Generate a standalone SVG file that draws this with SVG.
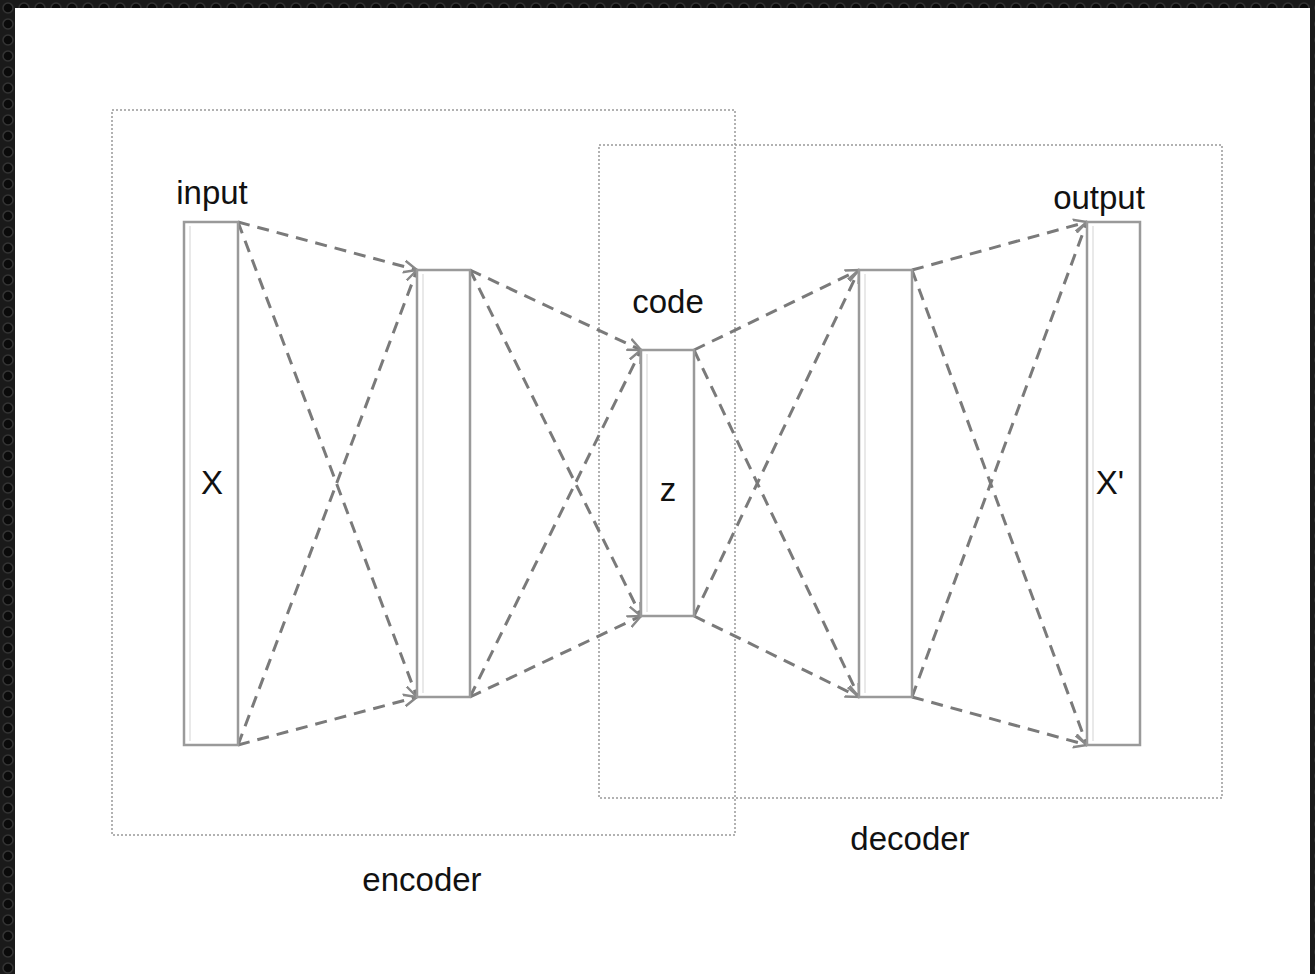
<svg xmlns="http://www.w3.org/2000/svg" width="1315" height="974" viewBox="0 0 1315 974">
<defs>
<pattern id="bg" width="16" height="16" patternUnits="userSpaceOnUse">
<rect width="16" height="16" fill="#1a1a1a"/>
<circle cx="8" cy="8" r="5" fill="#0a0a0a" stroke="#333" stroke-width="1.5"/>
</pattern>
<marker id="ah" viewBox="0 0 10 10" refX="9" refY="5" markerWidth="5" markerHeight="5" orient="auto">
<path d="M0,1 L9,5 L0,9" fill="none" stroke="#888" stroke-width="1.6"/>
</marker>
<style>
.grp{fill:none;stroke:#999;stroke-width:1.5;stroke-dasharray:2 2}
.layer{fill:#fff;stroke:#9a9a9a;stroke-width:2.5}
.inner{fill:none;stroke:#e2e2e2;stroke-width:1.5}
.con{stroke:#7a7a7a;stroke-width:3;stroke-dasharray:12 8;fill:none;marker-end:url(#ah)}
.lbl{font-family:"Liberation Sans",Arial,sans-serif;font-size:33px;fill:#111;text-anchor:middle}
</style>
</defs>
<rect width="1315" height="974" fill="url(#bg)"/>
<rect x="15" y="8" width="1295" height="966" fill="#fff"/>
<g id="encoder">
<rect class="grp" x="112" y="110" width="623" height="725"/>
<text class="lbl" x="422" y="891">encoder</text>
</g>
<g id="decoder">
<rect class="grp" x="599" y="145" width="623" height="653"/>
<text class="lbl" x="910" y="850">decoder</text>
</g>
<g id="connectors">
<line class="con" x1="238" y1="222" x2="417" y2="270"/>
<line class="con" x1="238" y1="222" x2="417" y2="697"/>
<line class="con" x1="238" y1="745" x2="417" y2="270"/>
<line class="con" x1="238" y1="745" x2="417" y2="697"/>
<line class="con" x1="470" y1="270" x2="641" y2="350"/>
<line class="con" x1="470" y1="270" x2="641" y2="616"/>
<line class="con" x1="470" y1="697" x2="641" y2="350"/>
<line class="con" x1="470" y1="697" x2="641" y2="616"/>
<line class="con" x1="694" y1="350" x2="859" y2="270"/>
<line class="con" x1="694" y1="350" x2="859" y2="697"/>
<line class="con" x1="694" y1="616" x2="859" y2="270"/>
<line class="con" x1="694" y1="616" x2="859" y2="697"/>
<line class="con" x1="912" y1="270" x2="1087" y2="222"/>
<line class="con" x1="912" y1="270" x2="1087" y2="745"/>
<line class="con" x1="912" y1="697" x2="1087" y2="222"/>
<line class="con" x1="912" y1="697" x2="1087" y2="745"/>
</g>
<g id="input">
<rect class="layer" x="184" y="222" width="54" height="523"/>
<line class="inner" x1="190" y1="226" x2="190" y2="741"/>
<text class="lbl" x="212" y="204">input</text>
<text class="lbl" x="212" y="494">X</text>
</g>
<g id="hidden1">
<rect class="layer" x="417" y="270" width="53" height="427"/>
<line class="inner" x1="423" y1="274" x2="423" y2="693"/>
</g>
<g id="code">
<rect class="layer" x="641" y="350" width="53" height="266"/>
<line class="inner" x1="647" y1="354" x2="647" y2="612"/>
<text class="lbl" x="668" y="313">code</text>
<text class="lbl" x="668" y="501">z</text>
</g>
<g id="hidden2">
<rect class="layer" x="859" y="270" width="53" height="427"/>
<line class="inner" x1="865" y1="274" x2="865" y2="693"/>
</g>
<g id="output">
<rect class="layer" x="1087" y="222" width="53" height="523"/>
<line class="inner" x1="1093" y1="226" x2="1093" y2="741"/>
<text class="lbl" x="1099" y="209">output</text>
<text class="lbl" x="1110" y="494">X'</text>
</g>
</svg>
